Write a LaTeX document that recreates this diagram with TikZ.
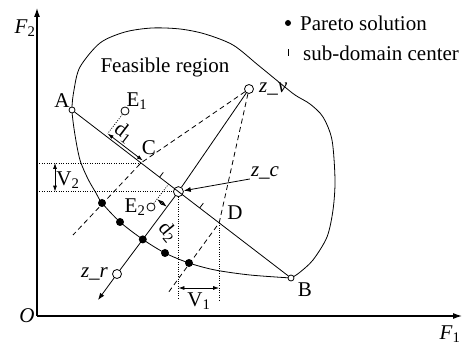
\documentclass[tikz,border=0pt]{standalone}
\usepackage{fontspec}
\setmainfont{Liberation Serif}
\usetikzlibrary{arrows.meta,calc,positioning}
\tikzset{
  axis/.style  = {-{Latex[length=9pt,width=6pt]}, line width=1.1pt},
  wire/.style  = {line width=0.8pt},
  guide/.style = {line width=0.8pt, dash pattern=on 5pt off 3.5pt},
  aux/.style   = {line width=0.7pt, dash pattern=on 1pt off 1.4pt},
  dim/.style   = {{Latex[length=6pt,width=4pt]}-{Latex[length=6pt,width=4pt]}, line width=0.8pt},
  ptr/.style   = {-{Latex[length=7pt,width=5pt]}, line width=0.8pt},
  dot/.style   = {circle, fill=black, inner sep=0pt, minimum size=8pt},
  odot/.style  = {circle, draw, line width=0.8pt, fill=white, inner sep=0pt, minimum size=9pt},
  sodot/.style = {odot, minimum size=6pt},
  lbl/.style   = {inner sep=1pt, font=\fontsize{21}{24}\selectfont},
}

\begin{document}
\begin{tikzpicture}[x=1pt,y=1pt]
  \useasboundingbox (0,0) rectangle (469,345);
  % axes
  \coordinate (O) at (37,29);
  \coordinate (ytip) at (37,337);
  \coordinate (xtip) at (462,29);
  \draw[axis] (O) -- (ytip);
  \draw[axis] (O) -- (xtip);
  \node[lbl] (f2) at (25,317) {\textit{F}\textsubscript{2}};
  \node[lbl] (f1) at (450,11) {\textit{F}\textsubscript{1}};
  \node[lbl] (olab) at (27,29) {\textit{O}};
  % feasible region
  \draw[wire] plot[smooth] coordinates {(291,67) (250,70) (215,75) (189,82) (165,92)
      (142.8,105.6) (120,123) (102,142) (96,152) (88,166) (80,185) (75,210) (72,235)
      (74,255) (80,278) (100,302) (125,313) (152,317) (180,316) (205,311) (233,300)
      (258,280) (280,262) (295,250) (310,241) (323,228) (332,205) (335,165) (333,135)
      (327,108) (313,85) (299,72) (291,67)};
  \node[lbl] (feas) at (165,278) {Feasible region};
  % legend
  \node[dot, minimum size=6pt] (legdot) at (288,322) {};
  \node[lbl, anchor=west] (legp) at (299,322) {Pareto solution};
  \draw[wire] (288,289) -- (288,296);
  \node[lbl, anchor=west] (legc) at (302,292) {sub-domain center};
  % points on the front and the line AB
  \node[sodot] (A) at (72,235) {};
  \node[sodot] (B) at (291,67) {};
  \coordinate (C) at ($(A)!0.315!(B)$);
  \coordinate (t1) at ($(A)!0.400!(B)$);
  \coordinate (t2) at ($(A)!0.583!(B)$);
  \coordinate (D) at ($(A)!0.672!(B)$);
  \node[odot, minimum size=10pt] (zc) at ($(A)!0.486!(B)$) {};
  \node[odot] (zv) at (249,256) {};
  \node[odot] (zr) at (117,71) {};
  \coordinate (zrtip) at (98,45);
  \node[odot, minimum size=8pt] (E1) at (125,234) {};
  \node[odot, minimum size=8pt] (E2) at (151,138) {};
  \foreach \px/\py [count=\i] in {102/142,120/123,165/92,189/82}
    \node[dot] (p\i) at (\px,\py) {};
  \node[dot] (pr) at ($(zc)!0.58!(zr)$) {};
  % lines
  \draw[wire] (A) -- (B);
  \draw[wire] (t1) -- ($(t1)!6pt!90:(B)$);
  \draw[wire] (t2) -- ($(t2)!6pt!90:(B)$);
  \draw[wire] (zv) -- (zc) -- (zr);
  \draw[ptr] (zr) -- (zrtip);
  \coordinate (cend) at (73,110);
  \coordinate (dend) at (168,52);
  \draw[guide] (zv) -- (C) -- (cend);
  \draw[guide] (zv) -- (D) -- (dend);
  % distances d1, d2
  \coordinate (E1f) at ($(A)!(E1)!(B)$);
  \coordinate (E2f) at ($(A)!(E2)!(B)$);
  \draw[aux] (E1) -- ($(E1f)!3pt!90:(B)$) coordinate (d1s);
  \draw[dim] (d1s) -- ($(C)!3pt!90:(B)$);
  \node[lbl, inner sep=0pt, rotate=-37.5] (d1lab) at (124,212) {d\textsubscript{1}};
  \draw[aux] (E2) -- (E2f);
  \draw[dim] ($(E2f)!-19pt!90:(B)$) -- ($(zc)!-19pt!90:(B)$);
  \node[lbl, inner sep=0pt, rotate=-50] (d2lab) at (168,113) {d\textsubscript{2}};
  % projections V1, V2
  \coordinate (base) at (0,47);
  \coordinate (baseD) at (0,43);
  \coordinate (v1y) at (0,57);
  \coordinate (v2x) at (55,0);
  \draw[aux] (O |- C) -- (C);
  \draw[aux] (O |- zc) -- (zc);
  \draw[aux] (zc) -- (zc |- base);
  \draw[aux] (D) -- (D |- baseD);
  \draw[dim] (zc |- v1y) -- (D |- v1y);
  \draw[dim] (v2x |- C) -- (v2x |- zc);
  \node[lbl] (v1lab) at (199,44) {V\textsubscript{1}};
  \node[lbl] (v2lab) at (68,165) {V\textsubscript{2}};
  % labels
  \node[lbl] (alab) at (62,244) {A};
  \node[lbl] (blab) at (305,55) {B};
  \node[lbl] (clab) at (149,197) {C};
  \node[lbl] (dlab) at (235,132) {D};
  \node[lbl] (e1lab) at (137,244) {E\textsubscript{1}};
  \node[lbl, left=0pt of E2] (e2lab) {E\textsubscript{2}};
  \node[lbl, right=4pt of zv] (zvlab) {\itshape z\_v};
  \node[lbl, left=3pt of zr] (zrlab) {\itshape z\_r};
  \node[lbl] (zclab) at (265,172) {\itshape z\_c};
  \draw[ptr] ([yshift=-6pt]zclab.west) -- (zc);
\end{tikzpicture}
\end{document}
